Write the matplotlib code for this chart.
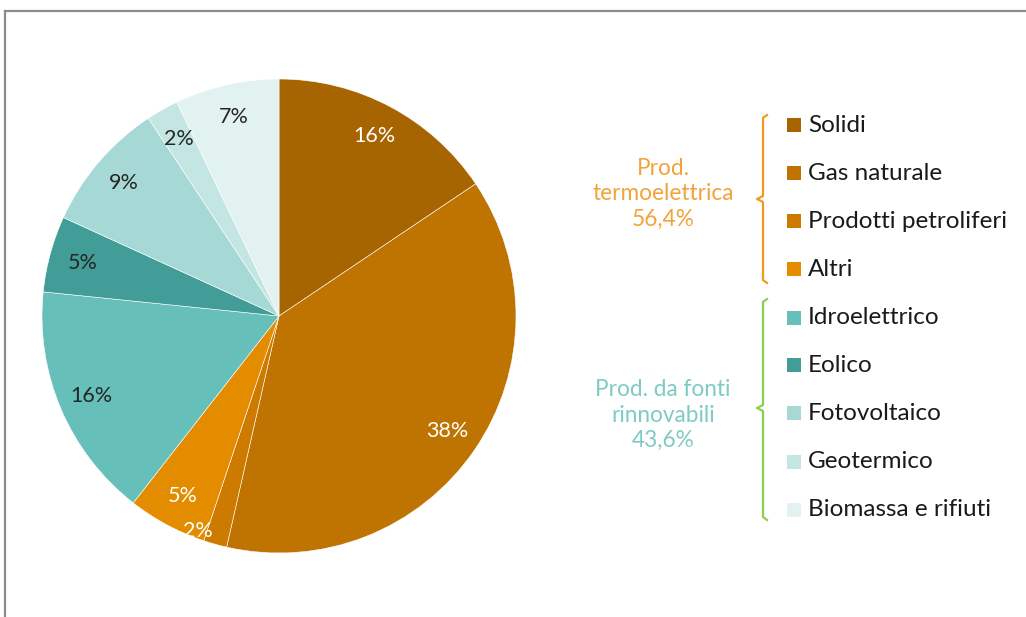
import matplotlib.pyplot as plt
from matplotlib.patches import Rectangle
from matplotlib.lines import Line2D

# quote % della produzione elettrica per fonte
sources = ['Solidi', 'Gas naturale', 'Prodotti petroliferi', 'Altri',
           'Idroelettrico', 'Eolico', 'Fotovoltaico', 'Geotermico',
           'Biomassa e rifiuti']
shares = [15.6, 38.0, 1.6, 5.4, 16.1, 5.2, 8.9, 2.2, 7.1]
colors = ['#A66500', '#BF7300', '#CC7A00', '#E38C00',
          '#66BFB8', '#429C97', '#A6D9D5', '#C3E6E3', '#E1F2F1']
label_colors = ['white'] * 4 + ['#262626'] * 5

groups = ['Prod.\ntermoelettrica\n56,4%', 'Prod. da fonti\nrinnovabili\n43,6%']
group_colors = ['#F2A33A', '#7FCBC4']
brace_colors = ['#F09A20', '#8CCF4F']

plt.rcParams['font.family'] = ['Lato', 'DejaVu Sans']

W, H = 1026, 617
fig = plt.figure(figsize=(W / 100, H / 100), dpi=100)


def fx(px):
    return px / W


def fy(py):
    return 1 - py / H


# cornice grigia
fig.add_artist(Line2D([fx(5), fx(5)], [0, fy(11)], color='#8C8C8C', lw=1.6))
fig.add_artist(Line2D([fx(5), 1], [fy(11), fy(11)], color='#8C8C8C', lw=1.6))

cx, cy, r = 279, 316, 237
ax = fig.add_axes([fx(cx - r), fy(cy + r), 2 * r / W, 2 * r / H])
wedges, texts, autotexts = ax.pie(shares, colors=colors, startangle=90,
                                  counterclock=False, autopct='%1.0f%%',
                                  pctdistance=0.86,
                                  wedgeprops=dict(edgecolor='white', linewidth=0.4))
for t, c in zip(autotexts, label_colors):
    t.set_color(c)
    t.set_fontsize(15.5)
# etichetta del 2% spostata verso il bordo
x, y = autotexts[2].get_position()
autotexts[2].set_position((x * 0.94 / 0.86 - 0.09, y * 0.94 / 0.86))
ax.set_xlim(-1, 1)
ax.set_ylim(-1, 1)
ax.set_aspect('auto')
ax.axis('off')

# legenda
row_y = [125, 173, 221, 269, 318, 365, 413, 462, 510]
for name, col, yy in zip(sources, colors, row_y):
    fig.add_artist(Rectangle((fx(787), fy(yy + 7)), 14 / W, 14 / H,
                             facecolor=col, edgecolor='none'))
    fig.text(fx(808), fy(yy), name, fontsize=17.5, color='#1A1A1A',
             va='center', ha='left')

# parentesi graffe
spans = [(115, 283, 199), (299, 520, 408)]
for (top, bot, mid), col in zip(spans, brace_colors):
    xs = [767, 763, 763, 757, 763, 763, 767]
    ys = [top, top + 3, mid - 3, mid, mid + 3, bot - 3, bot]
    fig.add_artist(Line2D([fx(v) for v in xs], [fy(v) for v in ys],
                          color=col, lw=1.6))

group_y = [194, 415]
for txt, col, yy in zip(groups, group_colors, group_y):
    fig.text(fx(663), fy(yy), txt, fontsize=16.3, color=col,
             ha='center', va='center', linespacing=1.25)

fig.savefig('out.png', dpi=100)
